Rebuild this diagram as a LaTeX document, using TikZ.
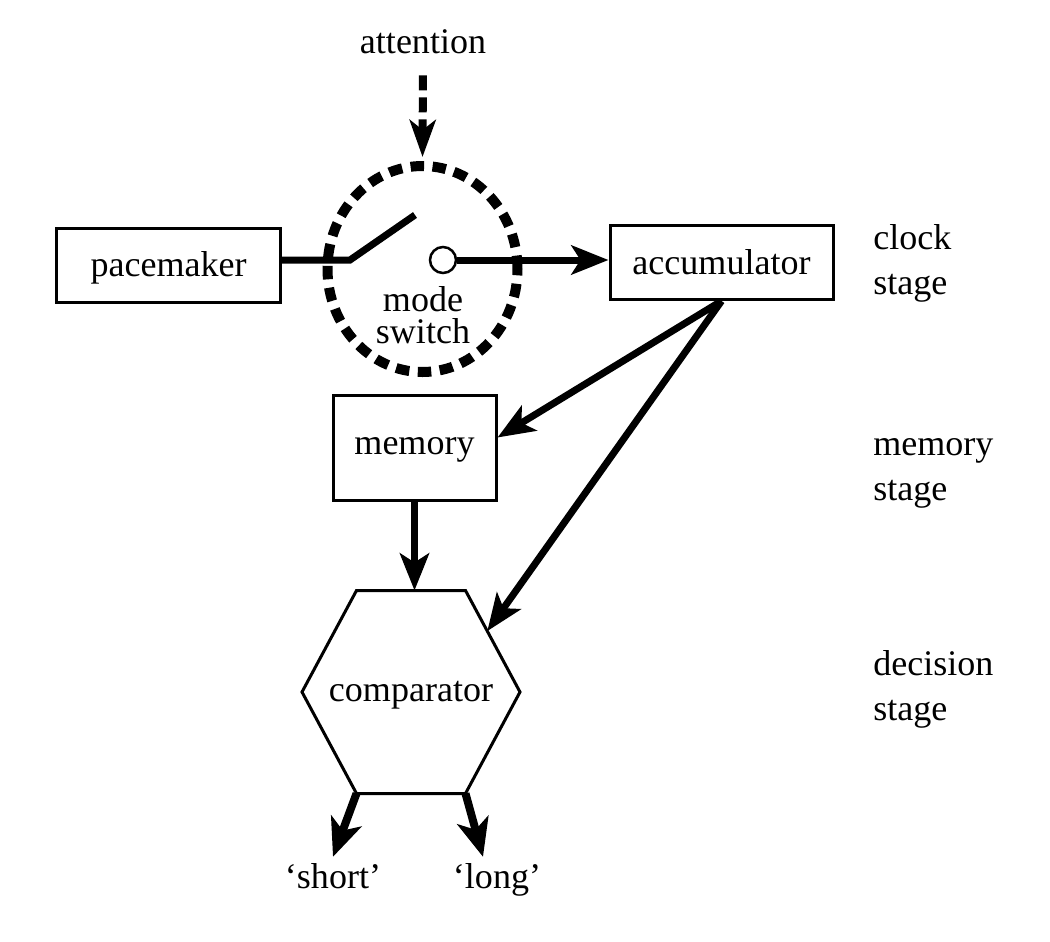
\documentclass[tikz,border=0pt]{standalone}
\usepackage{fontspec}
\setmainfont{Liberation Serif}
\usetikzlibrary{arrows.meta,shapes.geometric,calc}

\tikzset{
	stagebox/.style={draw, line width=0.06cm, minimum width=4.46cm, minimum height=1.48cm, inner sep=0, text height=0.62cm, text depth=0.16cm},
	flow/.style={line width=0.14cm, -{Stealth[length=0.74cm, width=0.58cm, inset=0.18cm]}},
	outflow/.style={line width=0.16cm, -{Stealth[length=0.76cm, width=0.64cm, inset=0.2cm]}},
	wire/.style={line width=0.14cm},
	stagelabel/.style={anchor=north west, align=left, inner sep=0},
}

\begin{document}
\begin{tikzpicture}[font=\fontsize{20.5pt}{25.6pt}\selectfont]
	\useasboundingbox (0,0) rectangle (21,-18.84);
	% clock stage
	\node[stagebox] (pace) at (3.37,-5.30) {pacemaker};
	\node[stagebox] (acc) at (14.43,-5.25) {accumulator};
	\node[draw, ellipse, dash pattern=on 0.27cm off 0.17cm, line width=0.2cm, minimum width=3.8cm, minimum height=4.12cm, inner sep=0] (sw) at (8.45,-5.38) {};
	\node[align=center, font=\fontsize{20.5pt}{18.5pt}\selectfont] (swtext) at (8.46,-6.3) {mode\\switch};
	\node (att) at (8.46,-0.84) {attention};
	\draw[flow, line width=0.16cm, dash pattern=on 0.3cm off 0.14cm, -{Stealth[length=0.74cm, width=0.52cm, inset=0.2cm]}, shorten <=0.3cm, shorten >=0.08cm] (att.south) -- (sw.north);
	\coordinate (pivot) at (7.0,-5.2);
	\coordinate (lever) at (8.3,-4.3);
	\draw[wire] (pivot -| pace.east) -- (pivot) -- (lever);
	\node[draw, circle, line width=0.05cm, minimum size=0.52cm, inner sep=0, fill=white] (ct) at (8.86,-5.2) {};
	\draw[flow] (ct.east) -- (ct.east -| acc.west);
	% memory stage
	\node[stagebox, minimum width=3.26cm, minimum height=2.1cm, text height=0.42cm] (mem) at (8.29,-8.95) {memory};
	% decision stage
	\node[text height=0.52cm, text depth=0.16cm] (cmp) at (8.22,-13.84) {comparator};
	\path (cmp.center) +(-1.09,2.03) coordinate (cmp tl) +(1.09,2.03) coordinate (cmp tr)
		+(2.18,0) coordinate (cmp r) +(1.09,-2.03) coordinate (cmp br)
		+(-1.09,-2.03) coordinate (cmp bl) +(-2.18,0) coordinate (cmp l);
	\draw[line width=0.06cm] (cmp tl) -- (cmp tr) -- (cmp r) -- (cmp br) -- (cmp bl) -- (cmp l) -- cycle;
	\draw[flow] (acc.south) -- ([yshift=0.2cm]mem.east);
	\draw[flow] (acc.south) -- ($(cmp tr)!0.4!(cmp r)$);
	\draw[flow] (mem.south) -- (mem.south |- cmp tl);
	\node[anchor=base] (short) at (6.66,-17.76) {‘short’};
	\node[anchor=base] (long) at (9.94,-17.76) {‘long’};
	\draw[outflow] (cmp bl) -- (short.north);
	\draw[outflow] (cmp br) -- ([xshift=-0.28cm]long.north);
	% stage labels
	\node[stagelabel] (clklabel) at (17.46,-4.48) {clock\\stage};
	\node[stagelabel] (memlabel) at (17.46,-8.76) {memory\\stage};
	\node[stagelabel] (declabel) at (17.46,-13.0) {decision\\stage};
\end{tikzpicture}
\end{document}
